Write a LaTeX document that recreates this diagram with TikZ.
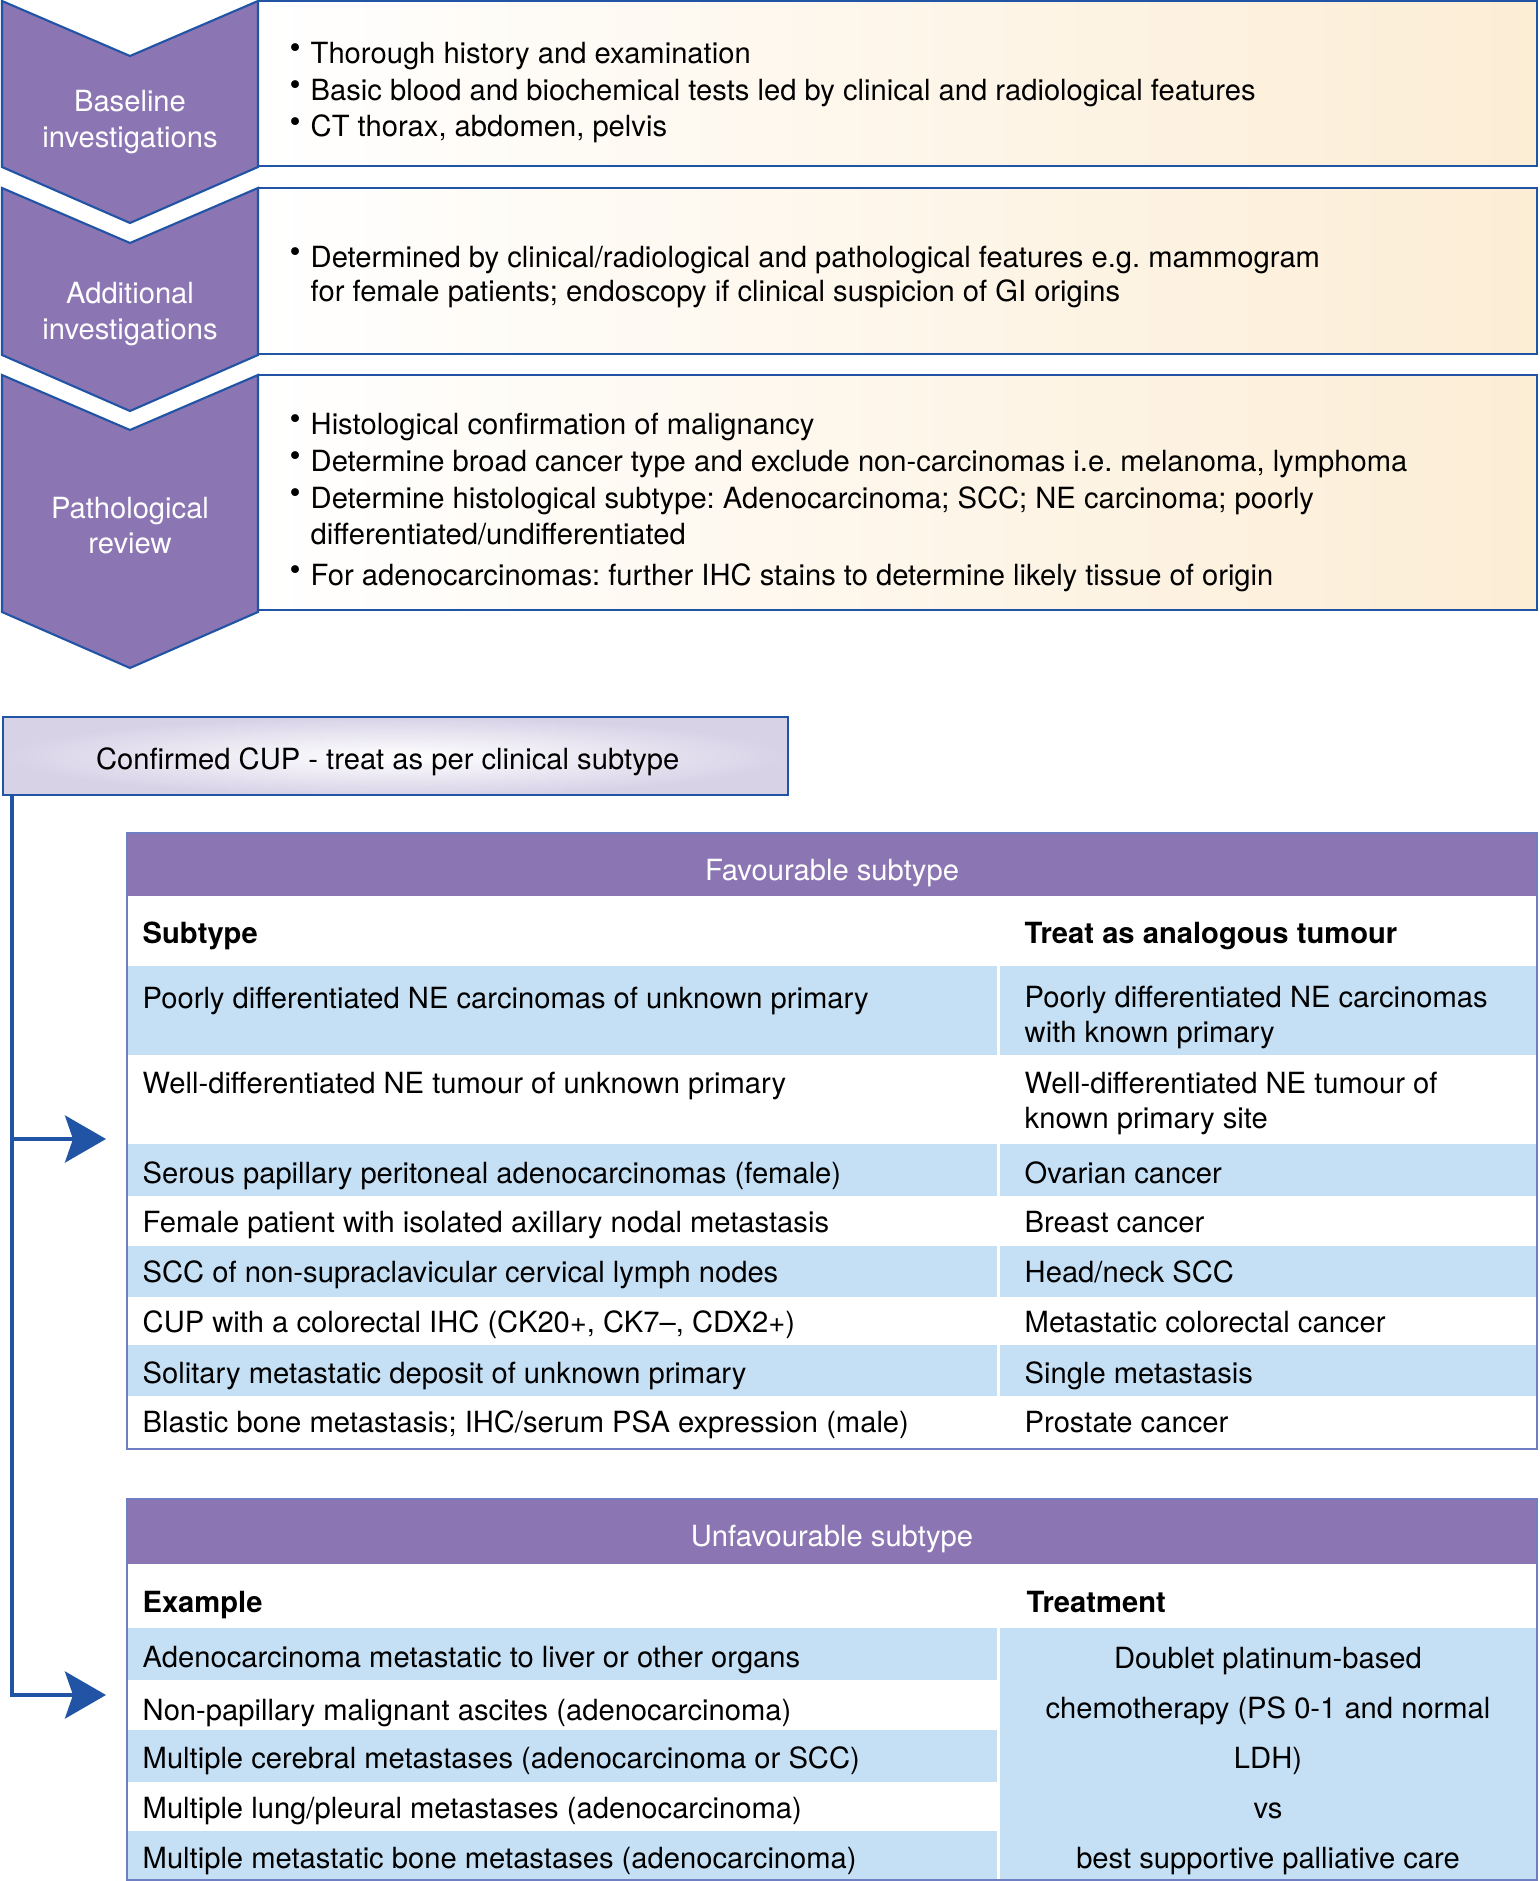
\documentclass[tikz,border=0pt]{standalone}
\usepackage{fontspec}
\setmainfont{TeX Gyre Heros}
\usetikzlibrary{arrows.meta,positioning}
\frenchspacing
\definecolor{cuppurple}{RGB}{139,117,179}
\definecolor{cupblue}{RGB}{33,84,164}
\definecolor{rowblue}{RGB}{197,224,245}
\definecolor{peach}{RGB}{252,237,213}
\definecolor{lavender}{RGB}{216,210,231}
\definecolor{tabline}{RGB}{112,126,196}
\newcommand{\fsz}{\fontsize{8.3}{10.5}\selectfont}
\newcommand{\bul}{\makebox[1.8mm][l]{\hspace{-0.3mm}\raisebox{1.4pt}{\fontsize{9}{9}\selectfont\textbullet}}}
\newcommand{\ind}{\hspace*{1.8mm}}
\tikzset{
  chev/.style    ={fill=cuppurple,draw=cupblue,line width=0.6pt},
  chevtxt/.style ={text=white,align=center,font=\fontsize{8.3}{10}\selectfont},
  infobox/.style ={draw=cupblue,line width=0.7pt,left color=white,right color=peach},
  bullets/.style ={anchor=base west,align=left,inner sep=0pt,font=\fsz},
  cupbox/.style  ={draw=cupblue,line width=0.7pt,inner color=white,outer color=lavender,
                   anchor=north west,minimum width=78.5mm,minimum height=7.8mm,font=\fsz,
                   text height=2.7mm,text depth=0pt},
  thead/.style   ={anchor=base,text=white,inner sep=0pt,font=\fsz},
  cell/.style    ={anchor=base west,align=left,inner sep=0pt,font=\fontsize{8.3}{9.8}\selectfont},
  hcell/.style   ={cell,font=\fsz\bfseries},
  tabframe/.style={draw=tabline,line width=0.4pt},
  flow/.style    ={draw=cupblue,line width=1.2pt,-{Stealth[length=4.1mm,width=4.7mm,inset=0.8mm]}},
}
\begin{document}
\begin{tikzpicture}[x=0.1mm,y=-0.1mm]
  \useasboundingbox (0,0) rectangle (1539,1881);
  % steps on the right
  \draw[infobox] (258,1) rectangle (1537,166);
  \draw[infobox] (258,188) rectangle (1537,354);
  \draw[infobox] (258,375) rectangle (1537,610);
  % chevrons
  \foreach \t/\b in {1/167,188/355,375/612}
    \draw[chev] (2,\t) -- (130,\t+55) -- (258,\t) -- (258,\b) -- (130,\b+56) -- (2,\b) -- cycle;
  \node[chevtxt] (baseline) at (130,122) {Baseline\\investigations};
  \node[chevtxt] (additional) at (130,314) {Additional\\investigations};
  \node[chevtxt] (patho) at (130,526) {Pathological\\review};
  % bullet texts (anchored at the last line)
  \node[bullets] (baselist) at (292,137) {\bul Thorough history and examination\\
    \bul Basic blood and biochemical tests led by clinical and radiological features\\
    \bul CT thorax, abdomen, pelvis};
  \node[bullets] (addlist) at (292,302) {\bul Determined by clinical/radiological and pathological features e.g. mammogram\\[-0.2mm]
    \ind for female patients; endoscopy if clinical suspicion of GI origins};
  \node[bullets] (patholist) at (292,585) {\bul Histological confirmation of malignancy\\
    \bul Determine broad cancer type and exclude non-carcinomas i.e. melanoma, lymphoma\\
    \bul Determine histological subtype: Adenocarcinoma; SCC; NE carcinoma; poorly\\[-0.1mm]
    \ind differentiated/undifferentiated\\[0.4mm]
    \bul For adenocarcinomas: further IHC stains to determine likely tissue of origin};
  % confirmed CUP
  \node[cupbox] (cup) at (2,716) {Confirmed CUP - treat as per clinical subtype\hspace*{1.6mm}};
  % favourable table
  \fill[cuppurple] (127,833) rectangle (1537,896);
  \foreach \t/\b in {966/1055,1144/1196,1246/1297,1345/1396}{
    \fill[rowblue] (127,\t) rectangle (997,\b);
    \fill[rowblue] (1000,\t) rectangle (1537,\b);
  }
  \draw[tabframe] (127,833) rectangle (1537,1449);
  \node[thead] (favhead) at (832,880) {Favourable subtype};
  \node[hcell] (favsub) at (142,943) {Subtype};
  \node[hcell] (favtreat) at (1024,943) {Treat as analogous tumour};
  \foreach \n/\y/\a/\b in {
    1/1008/{Poorly differentiated NE carcinomas of unknown primary}/{},
    2/1093/{Well-differentiated NE tumour of unknown primary}/{},
    3/1183/{Serous papillary peritoneal adenocarcinomas (female)}/{Ovarian cancer},
    4/1232/{Female patient with isolated axillary nodal metastasis}/{Breast cancer},
    5/1282/{SCC of non-supraclavicular cervical lymph nodes}/{Head/neck SCC},
    6/1332/{CUP with a colorectal IHC (CK20+, CK7–, CDX2+)}/{Metastatic colorectal cancer},
    7/1383/{Solitary metastatic deposit of unknown primary}/{Single metastasis},
    8/1432/{Blastic bone metastasis; IHC/serum PSA expression (male)}/{Prostate cancer}}{
    \node[cell] (fava\n) at (142,\y) {\a};
    \node[cell] (favb\n) at (1024,\y) {\b};
  }
  \node[cell] (favtwo1) at (1024,1042) {Poorly differentiated NE carcinomas\\with known primary};
  \node[cell] (favtwo2) at (1024,1128) {Well-differentiated NE tumour of\\known primary site};
  % unfavourable table
  \fill[cuppurple] (127,1499) rectangle (1537,1564);
  \foreach \t/\b in {1628/1680,1730/1782,1831/1880}
    \fill[rowblue] (127,\t) rectangle (997,\b);
  \fill[rowblue] (1000,1628) rectangle (1537,1880);
  \draw[tabframe] (127,1499) rectangle (1537,1880);
  \node[thead] (unfhead) at (832,1546) {Unfavourable subtype};
  \node[hcell] (unfex) at (142,1612) {Example};
  \node[hcell] (unftreat) at (1026,1612) {Treatment};
  \foreach \n/\y/\a in {
    1/1667/{Adenocarcinoma metastatic to liver or other organs},
    2/1720/{Non-papillary malignant ascites (adenocarcinoma)},
    3/1768/{Multiple cerebral metastases (adenocarcinoma or SCC)},
    4/1818/{Multiple lung/pleural metastases (adenocarcinoma)},
    5/1868/{Multiple metastatic bone metastases (adenocarcinoma)}}
    \node[cell] (unfa\n) at (142,\y) {\a};
  \node[cell,anchor=base,align=center,font=\fontsize{8.3}{14.2}\selectfont] (unfb) at (1268,1868)
    {Doublet platinum-based\\chemotherapy (PS 0-1 and normal\\LDH)\\vs\\best supportive palliative care};
  % connectors
  \coordinate (trunk) at (12,0);
  \coordinate (favin) at (106,1139);
  \coordinate (unfin) at (106,1695);
  \draw[flow] (trunk |- cup.south) |- (unfin);
  \draw[flow] (trunk |- favin) -- (favin);
\end{tikzpicture}
\end{document}
